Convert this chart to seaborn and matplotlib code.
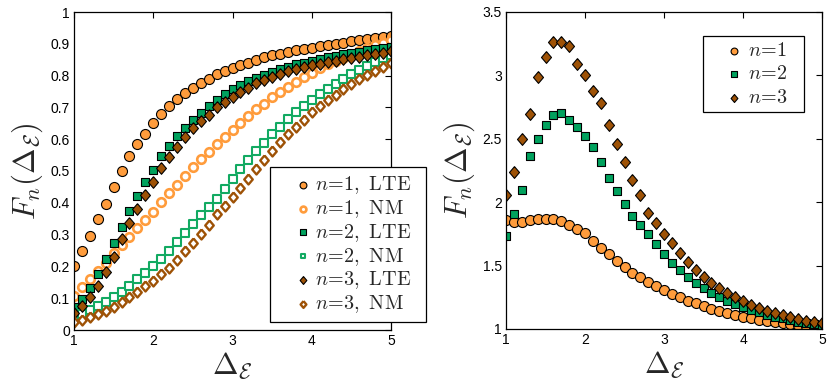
import numpy as np
import pandas as pd
import matplotlib
matplotlib.use('Agg')
import matplotlib.pyplot as plt
import seaborn as sns
from matplotlib.ticker import FuncFormatter

# ---- data ----
delta = [1.0, 1.1, 1.2, 1.3, 1.4, 1.5, 1.6, 1.7, 1.8, 1.9,
         2.0, 2.1, 2.2, 2.3, 2.4, 2.5, 2.6, 2.7, 2.8, 2.9,
         3.0, 3.1, 3.2, 3.3, 3.4, 3.5, 3.6, 3.7, 3.8, 3.9,
         4.0, 4.1, 4.2, 4.3, 4.4, 4.5, 4.6, 4.7, 4.8, 4.9, 5.0]

lte_n1 = [0.200, 0.250, 0.295, 0.348, 0.397, 0.449, 0.500, 0.546, 0.585, 0.617,
          0.652, 0.679, 0.705, 0.726, 0.745, 0.762, 0.778, 0.790, 0.804, 0.813,
          0.823, 0.832, 0.841, 0.850, 0.857, 0.864, 0.869, 0.874, 0.879, 0.884,
          0.888, 0.892, 0.896, 0.900, 0.904, 0.908, 0.911, 0.915, 0.918, 0.921, 0.924]
nm_n1 = [0.108, 0.136, 0.160, 0.187, 0.212, 0.241, 0.268, 0.294, 0.321, 0.345,
         0.372, 0.401, 0.430, 0.457, 0.485, 0.513, 0.539, 0.561, 0.586, 0.608,
         0.629, 0.650, 0.673, 0.694, 0.712, 0.733, 0.749, 0.765, 0.781, 0.796,
         0.809, 0.823, 0.835, 0.847, 0.856, 0.866, 0.876, 0.886, 0.895, 0.904, 0.912]
lte_n2 = [0.073, 0.096, 0.133, 0.175, 0.222, 0.275, 0.324, 0.374, 0.421, 0.465,
          0.504, 0.547, 0.579, 0.609, 0.635, 0.660, 0.683, 0.704, 0.724, 0.741,
          0.757, 0.770, 0.783, 0.793, 0.803, 0.812, 0.821, 0.828, 0.835, 0.841,
          0.847, 0.852, 0.857, 0.862, 0.867, 0.871, 0.875, 0.879, 0.883, 0.887, 0.890]
nm_n2 = [0.042, 0.050, 0.063, 0.074, 0.089, 0.105, 0.121, 0.139, 0.159, 0.180,
         0.200, 0.224, 0.250, 0.278, 0.304, 0.332, 0.361, 0.387, 0.413, 0.444,
         0.475, 0.506, 0.535, 0.562, 0.588, 0.615, 0.639, 0.662, 0.684, 0.704,
         0.723, 0.741, 0.758, 0.774, 0.790, 0.804, 0.817, 0.831, 0.843, 0.855, 0.865]
lte_n3 = [0.054, 0.075, 0.105, 0.138, 0.183, 0.230, 0.286, 0.338, 0.379, 0.425,
          0.466, 0.508, 0.543, 0.575, 0.607, 0.635, 0.658, 0.677, 0.701, 0.717,
          0.734, 0.748, 0.762, 0.776, 0.786, 0.797, 0.805, 0.813, 0.820, 0.826,
          0.832, 0.837, 0.842, 0.847, 0.852, 0.856, 0.860, 0.864, 0.868, 0.872, 0.876]
nm_n3 = [0.026, 0.033, 0.042, 0.051, 0.061, 0.073, 0.088, 0.104, 0.119, 0.137,
         0.155, 0.176, 0.195, 0.221, 0.247, 0.274, 0.303, 0.330, 0.365, 0.391,
         0.419, 0.447, 0.476, 0.507, 0.535, 0.564, 0.592, 0.616, 0.638, 0.661,
         0.684, 0.703, 0.723, 0.740, 0.757, 0.773, 0.788, 0.801, 0.814, 0.827, 0.839]

ratio_n1 = [1.857, 1.840, 1.840, 1.857, 1.870, 1.865, 1.868, 1.855, 1.823, 1.790,
            1.754, 1.694, 1.641, 1.589, 1.536, 1.486, 1.444, 1.407, 1.371, 1.337,
            1.308, 1.279, 1.250, 1.224, 1.203, 1.179, 1.160, 1.142, 1.126, 1.110,
            1.097, 1.084, 1.073, 1.063, 1.056, 1.048, 1.040, 1.033, 1.026, 1.019, 1.013]
ratio_n2 = [1.736, 1.907, 2.095, 2.365, 2.498, 2.609, 2.685, 2.700, 2.646, 2.590,
            2.525, 2.438, 2.317, 2.188, 2.092, 1.988, 1.894, 1.818, 1.752, 1.668,
            1.594, 1.523, 1.463, 1.410, 1.365, 1.321, 1.284, 1.250, 1.221, 1.195,
            1.171, 1.150, 1.131, 1.113, 1.097, 1.084, 1.071, 1.058, 1.047, 1.037, 1.029]
ratio_n3 = [2.060, 2.240, 2.496, 2.698, 2.985, 3.148, 3.261, 3.261, 3.232, 3.092,
            3.000, 2.879, 2.782, 2.606, 2.459, 2.317, 2.175, 2.053, 1.918, 1.835,
            1.750, 1.675, 1.600, 1.531, 1.468, 1.413, 1.360, 1.320, 1.285, 1.250,
            1.217, 1.190, 1.165, 1.145, 1.125, 1.107, 1.092, 1.078, 1.066, 1.055, 1.044]

xticks = [1, 2, 3, 4, 5]
left_yticks = [0, 0.1, 0.2, 0.3, 0.4, 0.5, 0.6, 0.7, 0.8, 0.9, 1]
right_yticks = [1, 1.5, 2, 2.5, 3, 3.5]

left_labels = [r'$n\!=\!1,\ \mathrm{LTE}$', r'$n\!=\!1,\ \mathrm{NM}$',
               r'$n\!=\!2,\ \mathrm{LTE}$', r'$n\!=\!2,\ \mathrm{NM}$',
               r'$n\!=\!3,\ \mathrm{LTE}$', r'$n\!=\!3,\ \mathrm{NM}$']
right_labels = [r'$n\!=\!1$', r'$n\!=\!2$', r'$n\!=\!3$']

ORANGE = '#FF9C3C'
GREEN = '#00A25E'
GREEN_NM = '#12AA62'
BROWN = '#9E5206'
DIAMOND = [(0, 1), (0.85, 0), (0, -1), (-0.85, 0), (0, 1)]

# ---- style ----
sns.set_style('white')
plt.rcParams['font.family'] = ['Liberation Sans', 'DejaVu Sans']
plt.rcParams['mathtext.fontset'] = 'cm'

fig = plt.figure(figsize=(8.3, 3.88), dpi=100)
axL = fig.add_axes([74/830, 58/388, 317/830, 318/388])
axR = fig.add_axes([506/830, 59/388, 316/830, 317/388])

filled = dict(edgecolor='black', linewidth=0.8)

# left panel
sns.scatterplot(x=delta, y=lte_n1, ax=axL, marker='o', s=52, color=ORANGE, label=left_labels[0], **filled)
sns.scatterplot(x=delta, y=nm_n1, ax=axL, marker='o', s=38, color='white', edgecolor=ORANGE, linewidth=1.9, label=left_labels[1])
sns.scatterplot(x=delta, y=lte_n2, ax=axL, marker='s', s=30, color=GREEN, label=left_labels[2], **filled)
sns.scatterplot(x=delta, y=nm_n2, ax=axL, marker='s', s=28, color='white', edgecolor=GREEN_NM, linewidth=1.5, label=left_labels[3])
sns.scatterplot(x=delta, y=lte_n3, ax=axL, marker=DIAMOND, s=70, color=BROWN, label=left_labels[4], **filled)
sns.scatterplot(x=delta, y=nm_n3, ax=axL, marker=DIAMOND, s=52, color='white', edgecolor=BROWN, linewidth=1.7, label=left_labels[5])

# right panel
sns.scatterplot(x=delta, y=ratio_n1, ax=axR, marker='o', s=52, color=ORANGE, label=right_labels[0], **filled)
sns.scatterplot(x=delta, y=ratio_n2, ax=axR, marker='s', s=30, color=GREEN, label=right_labels[1], **filled)
sns.scatterplot(x=delta, y=ratio_n3, ax=axR, marker=DIAMOND, s=72, color=BROWN, label=right_labels[2], **filled)

fmt = FuncFormatter(lambda v, p: ('%g' % round(v, 3)))
for ax, yt, ylim in [(axL, left_yticks, (0, 1)), (axR, right_yticks, (1, 3.5))]:
    ax.set_xlim(1, 5)
    ax.set_ylim(*ylim)
    ax.set_xticks(xticks)
    ax.set_yticks(yt)
    ax.yaxis.set_major_formatter(fmt)
    ax.xaxis.set_major_formatter(fmt)
    ax.tick_params(direction='in', length=4, width=0.8, top=True, right=True,
                   labelsize=10, colors='black', pad=3)
    for sp in ax.spines.values():
        sp.set_color('black')
        sp.set_linewidth(0.9)
    ax.set_xlabel(r'$\Delta_{\mathcal{E}}$', fontsize=22, labelpad=2)
    ax.set_ylabel(r'$F_n(\Delta_{\mathcal{E}})$', fontsize=22, labelpad=4)

legL = axL.legend(loc='upper left', bbox_to_anchor=(270/830, 0, 156/830, 1 - 167/388),
                  bbox_transform=fig.transFigure, mode='expand', fontsize=14.5, markerscale=0.68,
                  frameon=True, fancybox=False, framealpha=1, edgecolor='black',
                  handletextpad=-0.7, labelspacing=0.1, borderpad=0.35, handlelength=2.6,
                  borderaxespad=0)
legL.get_frame().set_linewidth(0.9)
legR = axR.legend(loc='upper left', bbox_to_anchor=(703/830, 0, 101/830, 1 - 36/388),
                  bbox_transform=fig.transFigure, mode='expand', fontsize=14.5, markerscale=0.68,
                  frameon=True, fancybox=False, framealpha=1, edgecolor='black',
                  handletextpad=-0.6, labelspacing=0.22, borderpad=0.25, handlelength=2.6,
                  borderaxespad=0)
legR.get_frame().set_linewidth(0.9)

fig.savefig('out.png', dpi=100, facecolor='white')
